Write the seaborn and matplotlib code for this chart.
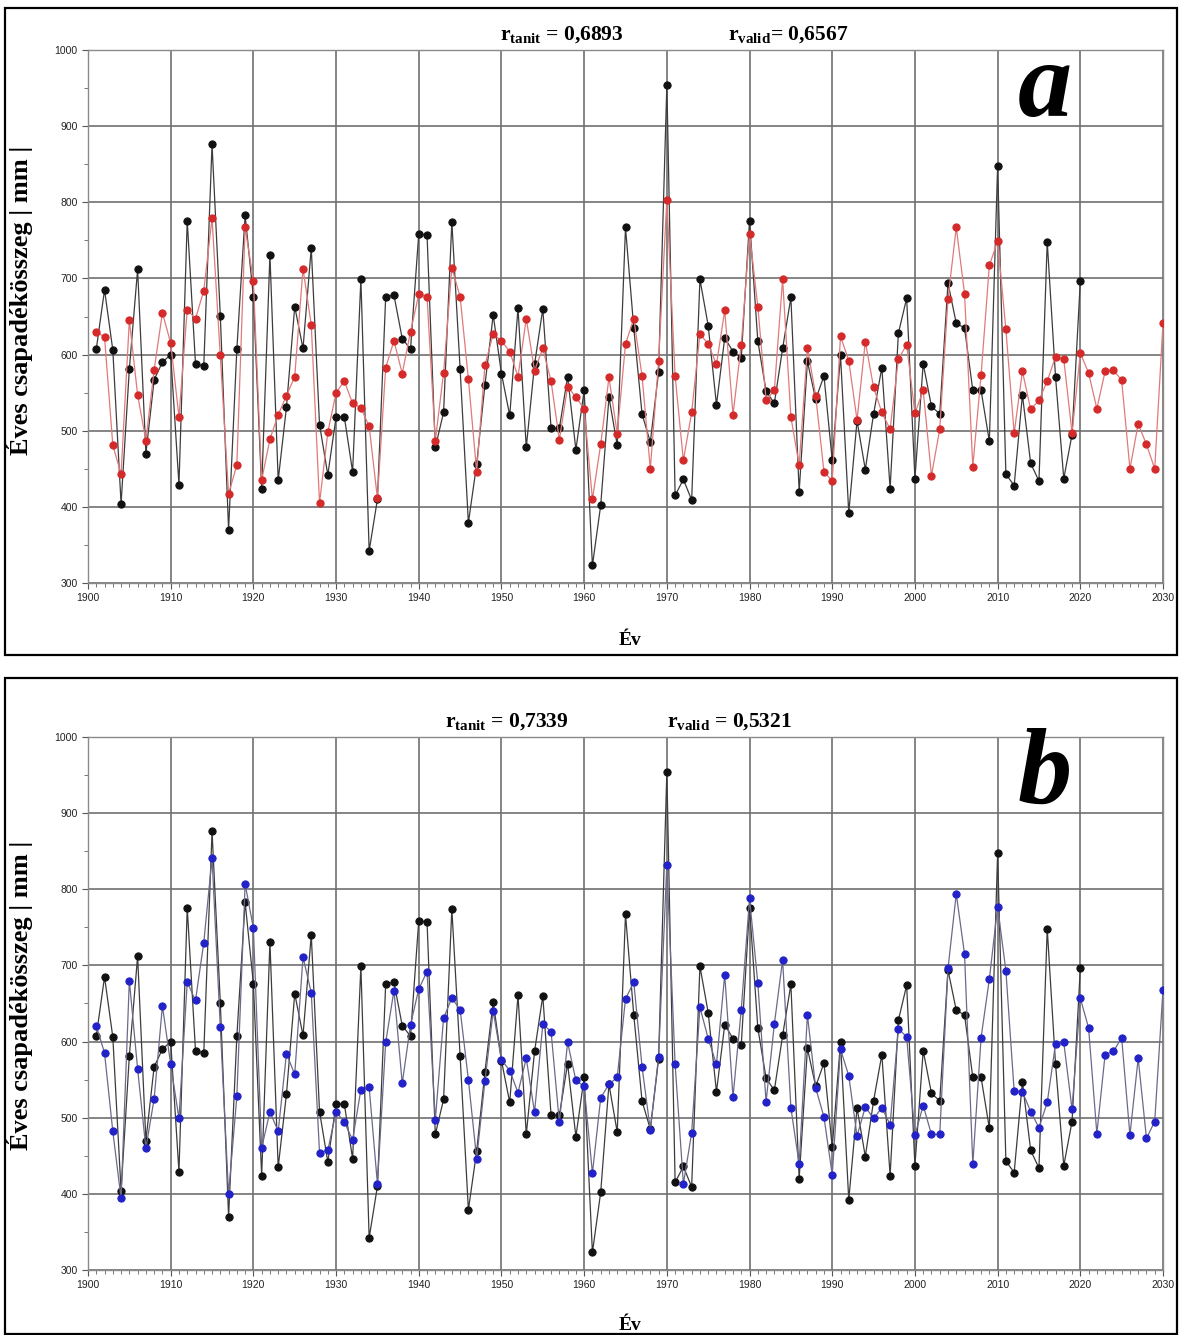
import numpy as np
import matplotlib
matplotlib.use("Agg")
import matplotlib.pyplot as plt
from matplotlib.patches import Rectangle
from matplotlib.ticker import MultipleLocator
import seaborn as sns

# ---------------- data ----------------
years_obs = list(range(1901, 2021))
years_mod = list(range(1901, 2031))

observed = [
    607, 685, 606, 404, 581, 712, 470, 567, 590, 600,
    429, 776, 588, 585, 876, 651, 370, 607, 783, 676,
    424, 731, 435, 531, 663, 608, 740, 508, 442, 518,
    518, 446, 699, 342, 410, 676, 678, 621, 607, 759,
    757, 478, 524, 774, 581, 379, 456, 560, 652, 575,
    520, 661, 478, 587, 660, 503, 503, 571, 475, 553,
    323, 402, 544, 481, 767, 635, 522, 485, 577, 954,
    415, 436, 409, 699, 638, 534, 622, 604, 596, 776,
    618, 552, 536, 608, 675, 420, 591, 541, 572, 461,
    599, 392, 513, 449, 522, 583, 424, 628, 674, 437,
    588, 532, 522, 694, 641, 635, 553, 553, 486, 847,
    443, 428, 547, 457, 434, 748, 571, 437, 495, 696,
]

model_a = [
    630, 623, 481, 443, 645, 547, 487, 580, 655, 615,
    518, 659, 647, 684, 779, 599, 417, 455, 767, 697,
    435, 489, 521, 546, 571, 713, 639, 405, 498, 550,
    565, 536, 530, 506, 411, 583, 618, 575, 630, 679,
    676, 487, 576, 714, 676, 568, 446, 586, 627, 618,
    604, 571, 647, 579, 608, 565, 488, 558, 544, 529,
    410, 482, 570, 496, 614, 647, 572, 450, 591, 803,
    572, 461, 524, 627, 614, 587, 658, 521, 613, 759,
    663, 540, 553, 699, 518, 455, 609, 546, 446, 434,
    624, 592, 514, 617, 557, 524, 502, 594, 613, 523,
    553, 441, 502, 673, 767, 680, 453, 573, 717, 749,
    633, 497, 578, 528, 540, 565, 597, 594, 497, 602,
    576, 529, 578, 580, 566, 450, 509, 482, 450, 641,
]

model_b = [
    621, 585, 482, 394, 680, 564, 460, 525, 647, 570,
    499, 678, 654, 730, 841, 619, 400, 528, 807, 749,
    460, 508, 482, 584, 557, 711, 664, 454, 457, 508,
    494, 471, 537, 540, 413, 599, 667, 545, 622, 669,
    692, 497, 631, 657, 642, 550, 446, 548, 640, 576,
    562, 533, 578, 507, 623, 613, 494, 599, 549, 541,
    427, 526, 544, 553, 656, 678, 567, 484, 580, 832,
    570, 413, 480, 645, 604, 570, 688, 527, 642, 788,
    677, 521, 623, 707, 513, 439, 635, 539, 501, 425,
    590, 555, 476, 514, 499, 513, 491, 617, 606, 477,
    516, 478, 478, 696, 794, 715, 439, 605, 682, 777,
    693, 535, 534, 508, 487, 520, 597, 599, 511, 657,
    618, 479, 583, 587, 605, 477, 578, 473, 495, 668,
]

r_texts_a = [r"$\mathbf{r}_{\mathbf{tanit}}$ = 0,6893", r"$\mathbf{r}_{\mathbf{valid}}$= 0,6567"]
r_texts_b = [r"$\mathbf{r}_{\mathbf{tanit}}$ = 0,7339", r"$\mathbf{r}_{\mathbf{valid}}$ = 0,5321"]
ylabel = "Éves csapadékösszeg | mm |"
xlabel = "Év"

# ---------------- style ----------------
sns.set_theme(style="white")
plt.rcParams["font.family"] = ["Liberation Sans", "DejaVu Sans"]
plt.rcParams["text.color"] = "black"
plt.rcParams["mathtext.fontset"] = "custom"
plt.rcParams["mathtext.rm"] = "Liberation Serif"
plt.rcParams["mathtext.bf"] = "Liberation Serif:bold"
plt.rcParams["mathtext.it"] = "Liberation Serif:italic"

W, H = 1182, 1335
fig = plt.figure(figsize=(W / 100, H / 100), dpi=100)
fig.patch.set_facecolor("white")

def fx(px):
    return px / W

def fy(py):
    return 1 - py / H

# panel frames
for (top, bot) in [(8, 655), (678, 1334)]:
    fig.patches.append(Rectangle((fx(5), fy(bot)), fx(1177) - fx(5), fy(top) - fy(bot),
                                 transform=fig.transFigure, fill=False,
                                 edgecolor="black", linewidth=1.6, zorder=0))

def make_panel(top, bot, model, mcolor, lcolor, letter, rtexts, rpos, xlab_y, ylab_c):
    ax = fig.add_axes([fx(88), fy(bot), fx(1163) - fx(88), fy(top) - fy(bot)])
    ax.set_facecolor("white")
    sns.lineplot(x=years_obs, y=observed, ax=ax, color="#3c3c3c", linewidth=0.9,
                 marker="o", markersize=5.2, markerfacecolor="#111111",
                 markeredgecolor="#111111", zorder=3)
    sns.lineplot(x=years_mod, y=model, ax=ax, color=lcolor, linewidth=0.9,
                 marker="o", markersize=5.2, markerfacecolor=mcolor,
                 markeredgecolor=mcolor, zorder=4)
    ax.set_xlim(1900, 2030)
    ax.set_ylim(300, 1000)
    ax.xaxis.set_major_locator(MultipleLocator(10))
    ax.xaxis.set_minor_locator(MultipleLocator(1))
    ax.yaxis.set_major_locator(MultipleLocator(100))
    ax.yaxis.set_minor_locator(MultipleLocator(50))
    ax.grid(True, which="major", color="#707070", linewidth=1.2)
    ax.tick_params(axis="both", which="major", direction="out", length=4,
                   width=0.8, color="#555555", labelsize=7.5, labelcolor="#222222",
                   bottom=True, left=True)
    ax.tick_params(axis="both", which="minor", direction="out", length=3,
                   width=0.7, color="#777777", bottom=True, left=True)
    for s in ax.spines.values():
        s.set_color("#8a8a8a")
        s.set_linewidth(1.0)
    ax.set_xlabel("")
    ax.set_ylabel("")
    fig.text(fx(20), fy(ylab_c), ylabel, rotation=90, ha="center", va="center",
             fontsize=19, fontweight="bold", family="Liberation Serif", color="black")
    fig.text(fx(630), fy(xlab_y), xlabel, ha="center", va="center",
             fontsize=14, fontweight="bold", family="Liberation Serif", color="black")
    for t, xp in zip(rtexts, rpos):
        fig.text(fx(xp), fy(top - 15), t, ha="left", va="center", fontsize=15.5,
                 fontweight="bold", family="Liberation Serif", color="black")
    fig.text(fx(1045), fy(top + 40), letter, ha="center", va="center", fontsize=78,
             fontweight="bold", style="italic", family="Liberation Serif", color="black")
    return ax

make_panel(50, 583, model_a, "#d42a2a", "#e07a7a", "a", r_texts_a, (500, 728), 640, 300)
make_panel(737, 1270, model_b, "#2222c8", "#6a6a8a", "b", r_texts_b, (445, 667), 1326, 995)

fig.savefig("out.png", dpi=100, facecolor="white")
